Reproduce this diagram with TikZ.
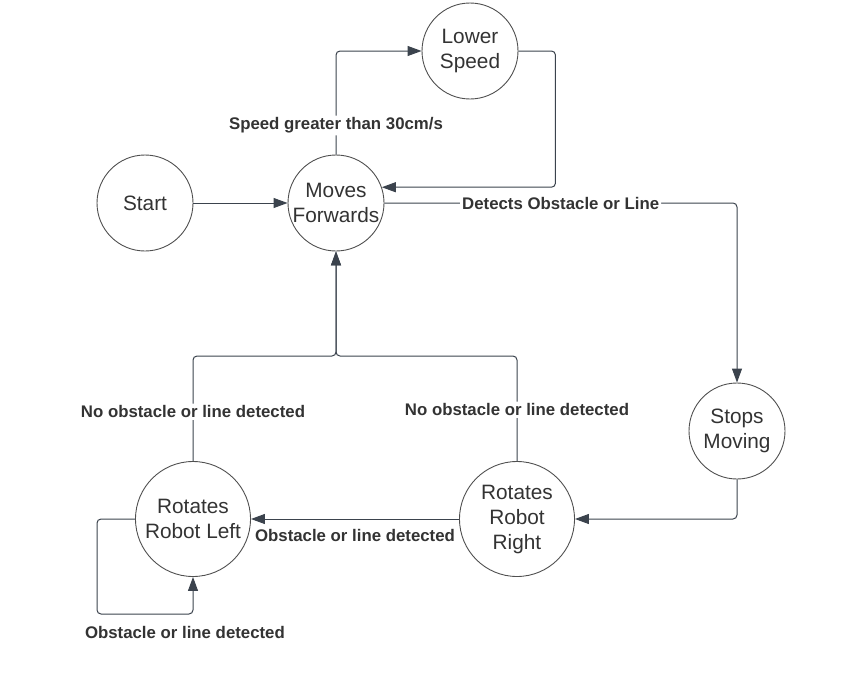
\documentclass[tikz,border=0pt]{standalone}
\usepackage{fontspec}
\setmainfont{Liberation Sans}
\usetikzlibrary{arrows.meta}
\definecolor{linegray}{HTML}{3B434D}
\definecolor{textgray}{HTML}{333333}
\definecolor{circlegray}{HTML}{505050}

\tikzset{
	state/.style={circle, draw=circlegray, line width=0.9pt, minimum size=96pt, inner sep=0pt,
		align=center, text=textgray, font=\fontsize{20.8}{25}\selectfont},
	bigstate/.style={state, minimum size=115pt},
	trans/.style={draw=linegray, line width=1pt, rounded corners=4pt,
		-{Triangle[length=14pt,width=10pt]}},
	lbl/.style={fill=white, inner sep=2pt, text=textgray, font=\fontsize{16.8}{20}\selectfont\bfseries}
}

\begin{document}
\begin{tikzpicture}[x=1pt, y=-1pt]
	\useasboundingbox (0,0) rectangle (867,696);
	% states
	\node[state] (start) at (145,203) {Start};
	\node[state] (moves) at (336,203) {Moves\\Forwards};
	\node[state] (lower) at (470,51) {Lower\\Speed};
	\node[state] (stops) at (737,431) {Stops\\Moving};
	\node[bigstate] (right) at (517,519) {Rotates\\Robot\\Right};
	\node[bigstate] (left) at (193,519) {Rotates\\Robot Left};
	\coordinate (join) at (336,356);
	\coordinate (loop) at (97,614);
	% transitions
	\draw[trans] (start) -- (moves);
	\draw[trans] (moves.north) |- node[lbl, pos=0.14]{Speed greater than 30cm/s} (lower.west);
	\draw[trans] (lower.east) -- ++(37,0) |- (moves.19);
	\draw[trans] (moves.east) -| node[lbl, pos=0.25]{Detects Obstacle or Line} (stops.north);
	\draw[trans] (stops.south) |- (right.east);
	\draw[trans] (right.west) -- node[lbl, below=8pt]{Obstacle or line detected} (left.east);
	\draw[trans] (left.west) -| (loop) -| node[lbl, below=9.5pt, pos=0.458]{Obstacle or line detected} (left.south);
	\draw[trans] (left.north) |- node[lbl, pos=0.235]{No obstacle or line detected} (join) -- (moves.south);
	\draw[trans] (right.north) |- node[lbl, pos=0.244]{No obstacle or line detected} (join) -- (moves.south);
\end{tikzpicture}
\end{document}
